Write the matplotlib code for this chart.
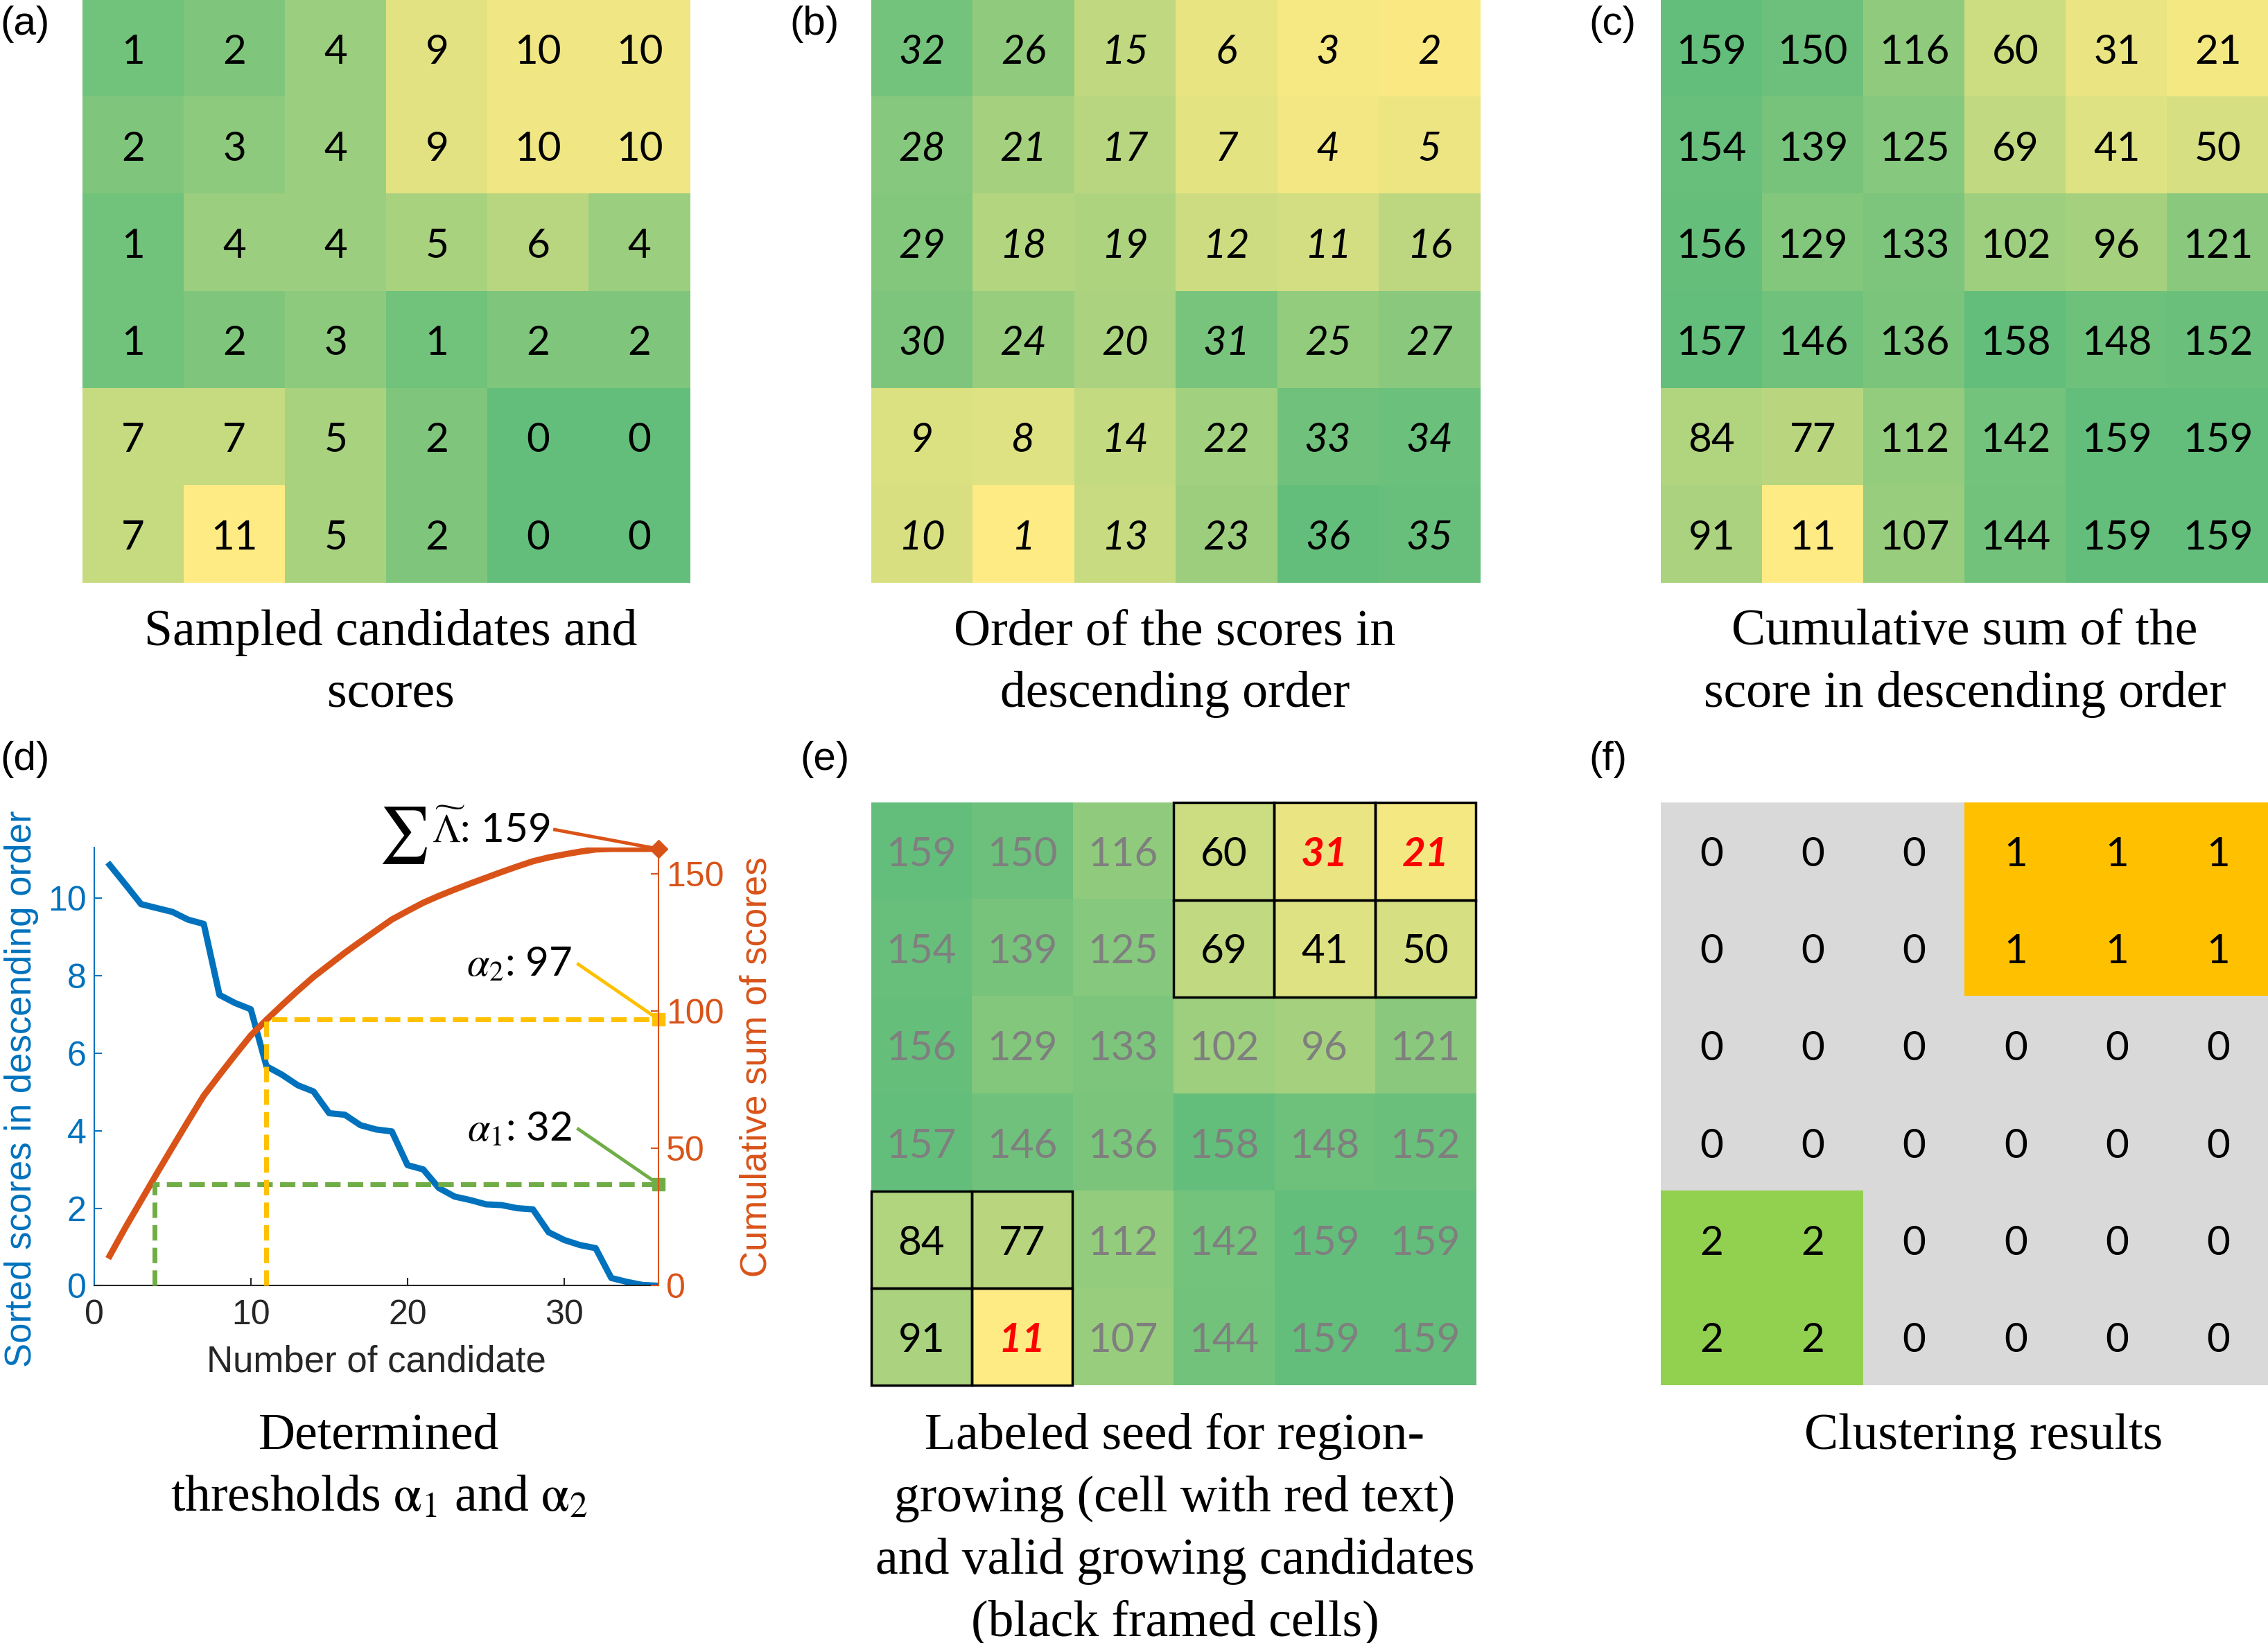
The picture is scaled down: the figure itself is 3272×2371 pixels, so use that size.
import matplotlib
matplotlib.use('Agg')
import matplotlib.pyplot as plt
from matplotlib.colors import LinearSegmentedColormap, ListedColormap
from matplotlib.patches import Rectangle
import numpy as np

plt.rcParams['mathtext.fontset'] = 'stix'

# ---- data ----
scores = [[1, 2, 4, 9, 10, 10],
          [2, 3, 4, 9, 10, 10],
          [1, 4, 4, 5, 6, 4],
          [1, 2, 3, 1, 2, 2],
          [7, 7, 5, 2, 0, 0],
          [7, 11, 5, 2, 0, 0]]

order = [[32, 26, 15, 6, 3, 2],
         [28, 21, 17, 7, 4, 5],
         [29, 18, 19, 12, 11, 16],
         [30, 24, 20, 31, 25, 27],
         [9, 8, 14, 22, 33, 34],
         [10, 1, 13, 23, 36, 35]]

cumsum_grid = [[159, 150, 116, 60, 31, 21],
               [154, 139, 125, 69, 41, 50],
               [156, 129, 133, 102, 96, 121],
               [157, 146, 136, 158, 148, 152],
               [84, 77, 112, 142, 159, 159],
               [91, 11, 107, 144, 159, 159]]

clusters = [[0, 0, 0, 1, 1, 1],
            [0, 0, 0, 1, 1, 1],
            [0, 0, 0, 0, 0, 0],
            [0, 0, 0, 0, 0, 0],
            [2, 2, 0, 0, 0, 0],
            [2, 2, 0, 0, 0, 0]]

seed_cells = [(0, 4), (0, 5), (5, 1)]
framed_cells = [(0, 3), (0, 4), (0, 5), (1, 3), (1, 4), (1, 5), (4, 0), (4, 1), (5, 0), (5, 1)]

candidate_no = list(range(1, 37))
sorted_scores = [10.85, 10.35, 9.84, 9.74, 9.64, 9.44, 9.33, 7.5, 7.29, 7.13,
                 5.66, 5.44, 5.17, 5.01, 4.45, 4.41, 4.14, 4.03, 3.98, 3.11,
                 3.0, 2.52, 2.3, 2.21, 2.1, 2.08, 2.0, 1.97, 1.38, 1.18,
                 1.05, 0.97, 0.2, 0.1, 0.02, 0.0]
cum_scores = [10.9, 21.2, 31.0, 40.8, 50.4, 59.9, 69.2, 76.7, 84.0, 91.1,
              96.8, 102.2, 107.4, 112.4, 116.8, 121.2, 125.3, 129.3, 133.3, 136.4,
              139.4, 141.9, 144.2, 146.4, 148.5, 150.6, 152.6, 154.5, 155.9, 157.0,
              158.0, 158.8, 159.0, 159.0, 159.0, 159.0]
alpha1_x, alpha1_y = 3.85, 37
alpha2_x, alpha2_y = 11.0, 97
total_sum = 159

GREEN = '#63BE7B'
YELLOW = '#FFEB84'

W, H = 1568, 1136


def box(x0, y0, x1, y1):
    return [x0 / W, 1 - y1 / H, (x1 - x0) / W, (y1 - y0) / H]


fig = plt.figure(figsize=(32.73, 23.71), dpi=100)


def heat(rect, vals, low, high, italic=False, text_colors=None):
    ax = fig.add_axes(rect)
    cmap = LinearSegmentedColormap.from_list('gy', [low, high])
    arr = np.array(vals)
    ax.imshow(arr, cmap=cmap, vmin=arr.min(), vmax=arr.max(), aspect='auto',
              interpolation='nearest')
    for i in range(6):
        for j in range(6):
            kw = dict(color='black', fontstyle='italic' if italic else 'normal')
            if text_colors is not None:
                kw = text_colors(i, j)
            ax.text(j, i, str(vals[i][j]), ha='center', va='center_baseline',
                    fontsize=42, family='Lato', **kw)
    ax.set_axis_off()
    return ax


def caption(x, y, s):
    fig.text(x / W, 1 - y / H, s, ha='center', va='top', fontsize=53,
             family='Liberation Serif', linespacing=1.42)


def panel_label(x, y, s):
    fig.text(x / W, 1 - y / H, s, ha='left', va='center', fontsize=42,
             family='Liberation Sans')


# (a)
heat(box(57, 0, 477, 403), scores, GREEN, YELLOW)
panel_label(0, 17, '(a)')
caption(270, 421, 'Sampled candidates and\nscores')

# (b)
heat(box(602, 0, 1023, 403), order, YELLOW, GREEN, italic=True)
panel_label(546, 17, '(b)')
caption(812, 421, 'Order of the scores in\ndescending order')

# (c)
heat(box(1148, 0, 1568, 403), cumsum_grid, YELLOW, GREEN)
panel_label(1098, 17, '(c)')
caption(1358, 421, 'Cumulative sum of the\nscore in descending order')


# (e)
def e_colors(i, j):
    if (i, j) in seed_cells:
        return dict(color='#FF0000', fontweight='bold', fontstyle='italic')
    if (i, j) in framed_cells:
        return dict(color='black')
    return dict(color='#7F7F7F')


ax_e = heat(box(602, 555, 1020, 958), cumsum_grid, YELLOW, GREEN, text_colors=e_colors)
for (i, j) in framed_cells:
    ax_e.add_patch(Rectangle((j - 0.5, i - 0.5), 1, 1, fill=False, ec='black',
                             lw=2.5, clip_on=False, zorder=5))
panel_label(553, 525, '(e)')
caption(812, 977, 'Labeled seed for region-\ngrowing (cell with red text)\n'
                  'and valid growing candidates\n(black framed cells)')

# (f)
ax_f = fig.add_axes(box(1148, 555, 1568, 958))
ax_f.imshow(np.array(clusters), cmap=ListedColormap(['#D9D9D9', '#FFC000', '#92D050']),
            vmin=-0.5, vmax=2.5, aspect='auto', interpolation='nearest')
for i in range(6):
    for j in range(6):
        ax_f.text(j, i, str(clusters[i][j]), ha='center', va='center_baseline',
                  fontsize=42, family='Lato', color='black')
ax_f.set_axis_off()
panel_label(1098, 525, '(f)')
caption(1371, 977, 'Clustering results')

# (d)
BLUE = '#0072BD'
RED = '#D95319'
ax = fig.add_axes(box(65, 586, 455, 889))
ax.plot(candidate_no, sorted_scores, color=BLUE, lw=6.5)
ax.set_xlim(0, 36)
ax.set_ylim(0, 11.3)
ax.set_xticks([0, 10, 20, 30])
ax.set_yticks([0, 2, 4, 6, 8, 10])
for sp in ['top', 'right']:
    ax.spines[sp].set_visible(False)
ax.spines['left'].set_color(BLUE)
ax.spines['left'].set_linewidth(1.5)
ax.spines['bottom'].set_color('#262626')
ax.spines['bottom'].set_linewidth(1.5)
ax.tick_params(axis='y', colors=BLUE, direction='in', length=8, width=1.5,
               labelsize=36, pad=8)
ax.tick_params(axis='x', colors='#262626', direction='in', length=8, width=1.5,
               labelsize=36, pad=14)
for lab in ax.get_xticklabels() + ax.get_yticklabels():
    lab.set_family('Liberation Sans')
ax.set_xlabel('Number of candidate', fontsize=38, family='Liberation Sans',
              color='#262626', labelpad=14)
ax.set_ylabel('Sorted scores in descending order', fontsize=38,
              family='Liberation Sans', color=BLUE)
ax.yaxis.set_label_coords(-0.098, 0.45)

ax2 = ax.twinx()
ax2.plot(candidate_no, cum_scores, color=RED, lw=6.5)
ax2.set_ylim(0, 159.5)
ax2.set_xlim(0, 36)
ax2.set_yticks([0, 50, 100, 150])
for sp in ['top', 'left', 'bottom']:
    ax2.spines[sp].set_visible(False)
ax2.spines['right'].set_color(RED)
ax2.spines['right'].set_linewidth(1.5)
ax2.tick_params(axis='y', colors=RED, direction='in', length=8, width=1.5,
                labelsize=36, pad=8)
for lab in ax2.get_yticklabels():
    lab.set_family('Liberation Sans')
ax2.set_ylabel('Cumulative sum of scores', fontsize=38, family='Liberation Sans',
               color=RED, labelpad=16)

dash = (0, (3.2, 1.5))
ax2.plot([alpha1_x, alpha1_x, 36], [0, alpha1_y, alpha1_y], color='#70AD47',
         lw=5, ls=dash, clip_on=False)
ax2.plot([alpha2_x, alpha2_x, 36], [0, alpha2_y, alpha2_y], color='#FFC000',
         lw=5, ls=dash, clip_on=False)
ax2.plot([36], [total_sum], marker='D', ms=13, color=RED, clip_on=False)
ax2.plot([36], [alpha2_y], marker='s', ms=13, color='#FFC000', clip_on=False)
ax2.plot([36], [alpha1_y], marker='s', ms=13, color='#70AD47', clip_on=False)

ax2.plot([29.4, 36], [166, total_sum], color=RED, lw=3.5, clip_on=False)
ax2.plot([30.9, 36], [117, alpha2_y], color='#FFC000', lw=3.5, clip_on=False)
ax2.plot([30.9, 36], [57, alpha1_y], color='#70AD47', lw=3.5, clip_on=False)
ax2.text(21.3, 164, r'$\sum$', ha='right', va='center', fontsize=58,
         clip_on=False)
ax2.text(29.1, 166, r'$\widetilde{\Lambda}$: 159', ha='right', va='center',
         fontsize=42, family='Lato', clip_on=False)
ax2.text(30.5, 117, r'$\alpha_2$: 97', ha='right', va='center', fontsize=42,
         family='Lato', clip_on=False)
ax2.text(30.5, 57, r'$\alpha_1$: 32', ha='right', va='center', fontsize=42,
         family='Lato', clip_on=False)

panel_label(0, 525, '(d)')
caption(262, 977, 'Determined\nthresholds $\\mathrm{\\alpha}_1$ and $\\mathrm{\\alpha}_2$')

fig.savefig('out.png', dpi=100)
